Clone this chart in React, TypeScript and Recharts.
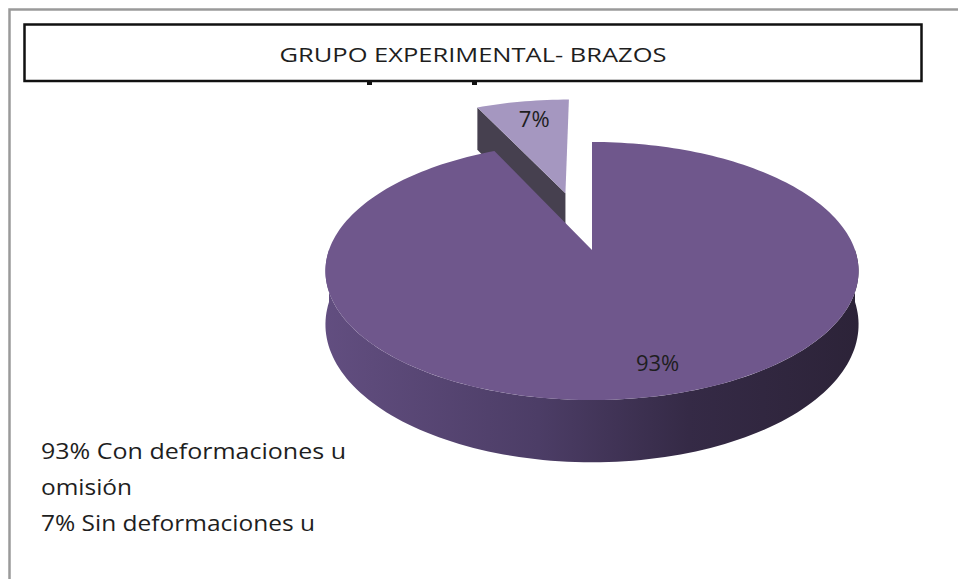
import React from 'react';
import { PieChart, Pie, Cell } from 'recharts';

// ---------- data ----------
const categories = ['Sin deformaciones u omisión', 'Con deformaciones u omisión'];
const values = [7, 93];
const legendLines = ['93% Con deformaciones u', 'omisión', '7% Sin deformaciones u'];
const chartTitle = 'GRUPO EXPERIMENTAL- BRAZOS';

// ---------- styles ----------
const sliceColors = ['#a597c0', '#6f578c'];
const cutColors = ['#46404f', '#3a2f4a'];
const explode = [0.5, 0];
const labelShiftX = [4, 13];
const FONT = '"Open Sans", "Noto Sans", sans-serif';
const TEXT_COLOR = '#1e1e1e';

// perspective projection parameters (relative to radius)
const K = 0.163;
const BR = 2.93;
const HR = 0.198;
const RAD = Math.PI / 180;
const LABEL_FRAC = 0.8;

const data = categories.map((name, i) => ({ name, value: values[i] }));

function proj(cx: number, cy: number, R: number, X: number, Z: number, h: number): [number, number] {
  const B = BR * R;
  const H = HR * R;
  const s = 1 + K * Z;
  return [cx + (R * X) / s, cy - B + (B + h * H) / s];
}

const toD = (pts: [number, number][]) =>
  pts.map((p, i) => `${i ? 'L' : 'M'}${p[0].toFixed(2)},${p[1].toFixed(2)}`).join('') + 'Z';

function Slice3D(props: any) {
  const { cx, cy, outerRadius, startAngle, endAngle, index, fill } = props;
  const R = outerRadius;
  const a0 = Math.min(startAngle, endAngle);
  const a1 = Math.max(startAngle, endAngle);
  const e = explode[index] || 0;
  const mid = ((a0 + a1) / 2) * RAD;
  const ox = e * Math.cos(mid);
  const oz = e * Math.sin(mid);
  const P = (a: number, h: number) =>
    proj(cx, cy, R, ox + Math.cos(a * RAD), oz + Math.sin(a * RAD), h);
  const C = (h: number) => proj(cx, cy, R, ox, oz, h);
  const arc = (s: number, t: number, h: number) => {
    const n = Math.max(2, Math.ceil(Math.abs(t - s) / 1.5));
    const pts: [number, number][] = [];
    for (let i = 0; i <= n; i++) pts.push(P(s + ((t - s) * i) / n, h));
    return pts;
  };
  const gid = `side-grad-${index}`;
  const walls: any[] = [];
  for (let k = -1; k <= 2; k++) {
    const s = Math.max(a0, 180 + 360 * k);
    const t = Math.min(a1, 360 + 360 * k);
    if (t > s) {
      walls.push(
        <path key={'o' + k} d={toD([...arc(s, t, 0), ...arc(t, s, 1)])} fill={`url(#${gid})`} />
      );
    }
  }
  const cut = (a: number, normal: number, key: string) => {
    if (Math.sin(normal * RAD) < -0.05) {
      walls.push(<path key={key} d={toD([C(0), P(a, 0), P(a, 1), C(1)])} fill={cutColors[index]} />);
    }
  };
  if (a1 - a0 < 359.9) {
    cut(a0, a0 - 90, 'c0');
    cut(a1, a1 + 90, 'c1');
  }
  const top = toD([C(0), ...arc(a0, a1, 0)]);
  return (
    <g>
      <defs>
        <linearGradient id={gid} gradientUnits="userSpaceOnUse" x1={cx - R * 1.02} y1={0} x2={cx + R * 1.02} y2={0}>
          <stop offset="0%" stopColor="#624e80" />
          <stop offset="40%" stopColor="#4c3d66" />
          <stop offset="68%" stopColor="#352a46" />
          <stop offset="100%" stopColor="#2c2338" />
        </linearGradient>
      </defs>
      {walls}
      <path d={top} fill={fill} />
    </g>
  );
}

const renderLabel = (props: any) => {
  const { cx, cy, outerRadius, midAngle, index, percent } = props;
  const e = explode[index] || 0;
  const m = midAngle * RAD;
  const f = LABEL_FRAC;
  const X = e * Math.cos(m) + f * Math.cos(m);
  const Z = e * Math.sin(m) + f * Math.sin(m);
  const [x, y] = proj(cx, cy, outerRadius, X, Z, 0);
  return (
    <text
      x={x + (labelShiftX[index] || 0)}
      y={y}
      textAnchor="middle"
      dominantBaseline="central"
      fontFamily={FONT}
      fontSize={22}
      fill={TEXT_COLOR}
    >
      {`${Math.round(percent * 100)}%`}
    </text>
  );
};

const legendLengths = [305, 91, 274];

export default function App() {
  return (
    <div style={{ position: 'absolute', left: 0, top: 0, width: 958, height: 579, background: '#fff', overflow: 'hidden' }}>
      <svg width={958} height={579} style={{ position: 'absolute', left: 0, top: 0 }}>
        <rect x={9.5} y={9.5} width={980} height={600} fill="#fff" stroke="#9a9a9a" strokeWidth={2.5} />
        <rect x={24.5} y={24.5} width={897} height={56.5} fill="#fff" stroke="#111" strokeWidth={2.5} />
        <rect x={367} y={81} width={5} height={4} fill="#111" />
        <rect x={472} y={81} width={5} height={4} fill="#111" />
        <text
          x={473}
          y={62}
          textAnchor="middle"
          fontFamily={FONT}
          fontSize={20.5}
          fill={TEXT_COLOR}
          textLength={387}
          lengthAdjust="spacingAndGlyphs"
        >
          {chartTitle}
        </text>
        {legendLines.map((line, i) => (
          <text
            key={i}
            x={41}
            y={459 + i * 36}
            fontFamily={FONT}
            fontSize={22.5}
            fill={TEXT_COLOR}
            textLength={legendLengths[i]}
            lengthAdjust="spacingAndGlyphs"
          >
            {line}
          </text>
        ))}
      </svg>
      <div style={{ position: 'absolute', left: 0, top: 0 }}>
        <PieChart width={958} height={579} margin={{ top: 0, right: 0, bottom: 0, left: 0 }}>
          <Pie
            data={data}
            dataKey="value"
            nameKey="name"
            cx={592}
            cy={250}
            outerRadius={263}
            startAngle={90}
            endAngle={450}
            stroke="none"
            isAnimationActive={false}
            label={renderLabel}
            labelLine={false}
            shape={Slice3D}
            activeShape={Slice3D}
            inactiveShape={Slice3D}
          >
            {data.map((d, i) => (
              <Cell key={d.name} fill={sliceColors[i]} />
            ))}
          </Pie>
        </PieChart>
      </div>
    </div>
  );
}
